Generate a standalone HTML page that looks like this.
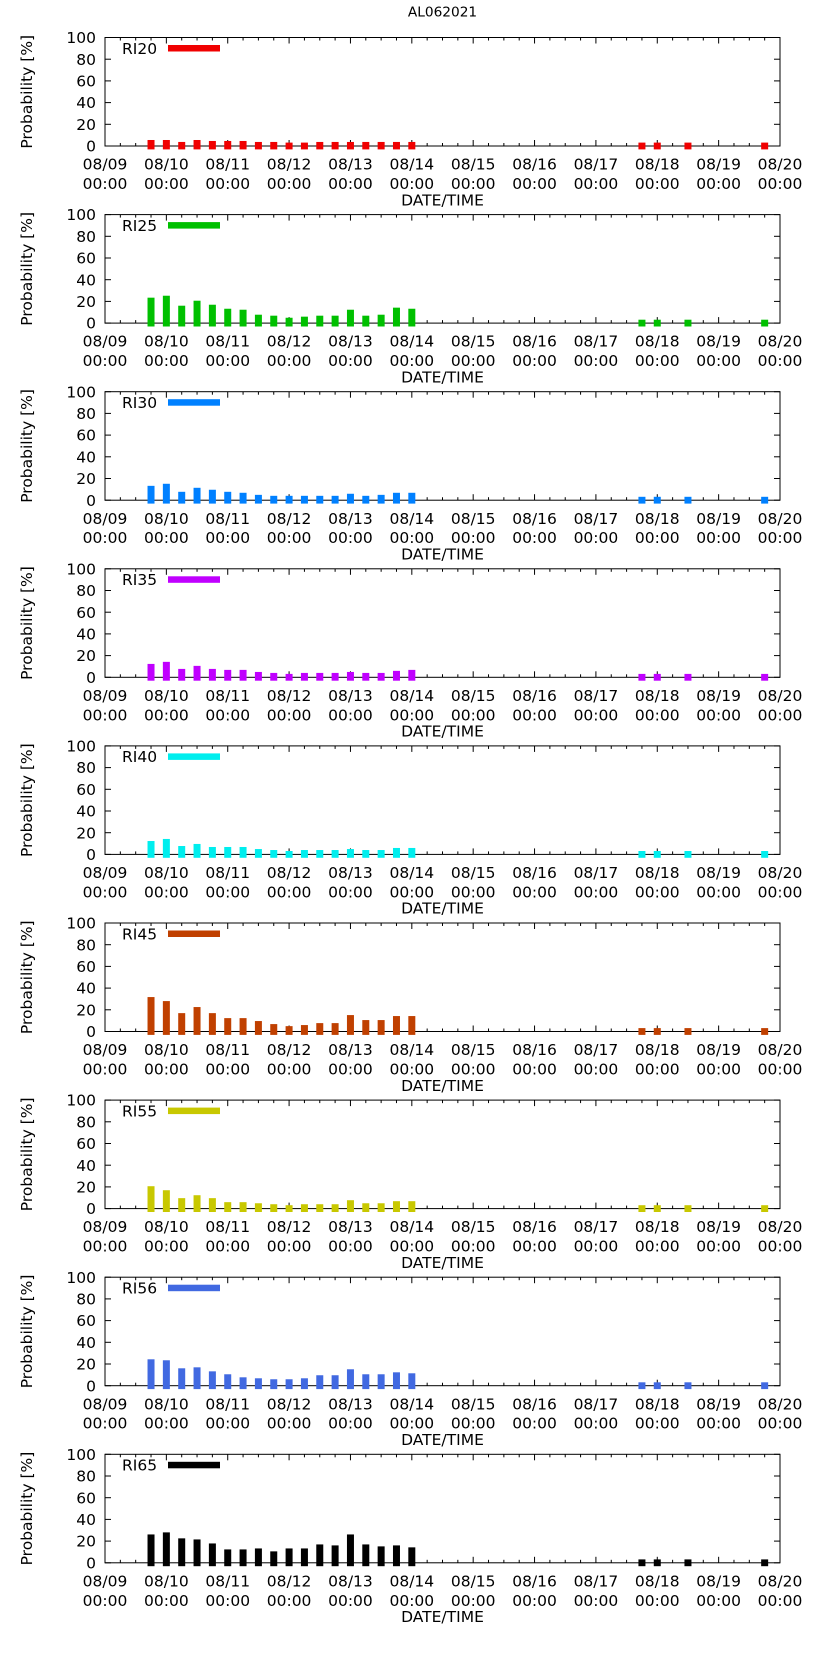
<!DOCTYPE html>
<html><head><meta charset="utf-8"><style>
html,body{margin:0;padding:0;background:#fff;}
svg{display:block;font-family:"DejaVu Sans","Liberation Sans",sans-serif;}
</style></head><body>
<svg id="chart" width="822" height="1653" viewBox="0 0 822 1653" xmlns="http://www.w3.org/2000/svg">
<text x="442.5" y="16.5" text-anchor="middle" font-size="13.7" fill="#000">AL062021</text>
</svg>
<script>
// Hours since 08/09 00:00 for each forecast bar
const hours = [18,24,30,36,42,48,54,60,66,72,78,84,90,96,102,108,114,120,210,216,228,258];
const dayLabels = ["08/09","08/10","08/11","08/12","08/13","08/14","08/15","08/16","08/17","08/18","08/19","08/20"];
const yTicks = [0,20,40,60,80,100];
const seriesNames = ["RI20","RI25","RI30","RI35","RI40","RI45","RI55","RI56","RI65"];
const seriesColors = ["#f00000","#00c000","#0080ff","#c000ff","#00eeee","#c04000","#c8c800","#4169e1","#000000"];
const ri20 = [2.4,2.4,0.6,2.4,1.5,1.5,1.5,0.6,0.6,0,0,0.6,0.6,0.6,0.6,0.6,0.6,0.6,0,0,0,0];
const ri25 = [20.3,22.1,12.9,17.5,13.8,10.1,9.2,4.6,3.7,1.8,2.8,3.7,3.7,9.2,3.7,4.6,11.1,10.1,0,0,0,0];
const ri30 = [10.1,12,4.6,8.3,6.5,4.6,3.7,1.8,0.9,0.9,0.9,0.9,0.9,2.8,0.9,1.8,3.7,3.7,0,0,0,0];
const ri35 = [9.2,11.1,4.6,7.4,4.6,3.7,3.7,1.8,0.9,0,0.9,0.9,0.9,1.8,0.9,0.9,2.8,3.7,0,0,0,0];
const ri40 = [9.2,11.1,4.6,6.5,3.7,3.7,3.7,1.8,0.9,0,0.9,0.9,0.9,1.8,0.9,0.9,2.8,2.8,0,0,0,0];
const ri45 = [28.6,24.9,13.8,19.4,13.8,9.2,9.2,6.5,3.7,1.8,2.8,4.6,4.6,12,7.4,7.4,11.1,11.1,0,0,0,0];
const ri55 = [17.5,13.8,6.5,9.2,6.5,2.8,2.8,1.8,0.9,0,0.9,0.9,0.9,4.6,1.8,1.8,3.7,3.7,0,0,0,0];
const ri56 = [21.2,20.3,12.9,13.8,10.1,7.4,4.6,3.7,2.8,2.8,3.7,6.5,6.5,12,7.4,7.4,9.2,8.3,0,0,0,0];
const ri65 = [23,24.9,19.4,18.4,14.7,9.2,9.2,10.1,7.4,10.1,10.1,13.8,12.9,23,13.8,12,12.9,11.1,0,0,0,0];
const seriesValues = [ri20,ri25,ri30,ri35,ri40,ri45,ri55,ri56,ri65];

const NS = "http://www.w3.org/2000/svg";
const svg = document.getElementById("chart");
const X0 = 105, X1 = 780, HMAX = 264;
const PX_PER_UNIT = 1.085, PANEL_STEP = 177.1, ZERO0 = 146;
function xScale(h){ return X0 + h / HMAX * (X1 - X0); }
function zeroOf(k){ return ZERO0 + PANEL_STEP * k; }
function yScale(v,k){ return zeroOf(k) - v * PX_PER_UNIT; }
function mk(tag, attrs, parent){
  const e = document.createElementNS(NS, tag);
  for (const a in attrs) e.setAttribute(a, attrs[a]);
  (parent || svg).appendChild(e);
  return e;
}

seriesNames.forEach((name, k) => {
  const g = mk("g", {});
  
  
  const z = zeroOf(k), top = yScale(100, k);
  // frame
  const fr = mk("rect", {x: X0, y: top, width: X1 - X0, height: z - top, fill: "none", stroke: "#000", "stroke-width": 1}, g);
  
  
  // x ticks
  for (let h = 0; h <= HMAX; h += 6) {
    const len = (h % 24 === 0) ? 6 : 3;
    const x = xScale(h);
    mk("line", {x1: x, x2: x, y1: z, y2: z - len, stroke: "#000", "stroke-width": 1}, g);
    mk("line", {x1: x, x2: x, y1: top, y2: top + len, stroke: "#000", "stroke-width": 1}, g);
  }
  // bars (drawn over frame/ticks)
  seriesValues[k].forEach((v, i) => {
    const r = mk("rect", {x: xScale(hours[i]) - 3.5, y: yScale(v, k) - 3.4, width: 7, height: v * PX_PER_UNIT + 6.8, fill: seriesColors[k]}, g);
    
    
  });
  dayLabels.forEach((d, i) => {
    const x = xScale(i * 24);
    const t1 = mk("text", {x: x, y: z + 23.6, "text-anchor": "middle", "font-size": 15.5, fill: "#000"}, g);
    t1.textContent = d;
    
    
    const t2 = mk("text", {x: x, y: z + 43, "text-anchor": "middle", "font-size": 15.5, fill: "#000"}, g);
    t2.textContent = "00:00";
    
    
  });
  // y ticks
  yTicks.forEach(v => {
    const y = yScale(v, k);
    mk("line", {x1: X0, x2: X0 + 6, y1: y, y2: y, stroke: "#000", "stroke-width": 1}, g);
    mk("line", {x1: X1, x2: X1 - 6, y1: y, y2: y, stroke: "#000", "stroke-width": 1}, g);
    const t = mk("text", {x: 96, y: y + 5.6, "text-anchor": "end", "font-size": 15.5, fill: "#000"}, g);
    t.textContent = v;
    
    
  });
  // axis titles
  const yt = mk("text", {x: 0, y: 0, "text-anchor": "middle", "font-size": 15.5, fill: "#000", transform: "translate(32," + ((top + z) / 2) + ") rotate(-90)"}, g);
  yt.textContent = "Probability [%]";
  
  
  const xt = mk("text", {x: 442.5, y: z + 59.3, "text-anchor": "middle", "font-size": 15.5, fill: "#000"}, g);
  xt.textContent = "DATE/TIME";
  
  
  // legend
  const lt = mk("text", {x: 122, y: top + 16.3, "font-size": 15.5, fill: "#000"}, g);
  lt.textContent = name;
  
  
  const ls = mk("rect", {x: 168, y: top + 7.5, width: 52, height: 6.5, fill: seriesColors[k]}, g);
  
  
});
</script>
</body></html>
